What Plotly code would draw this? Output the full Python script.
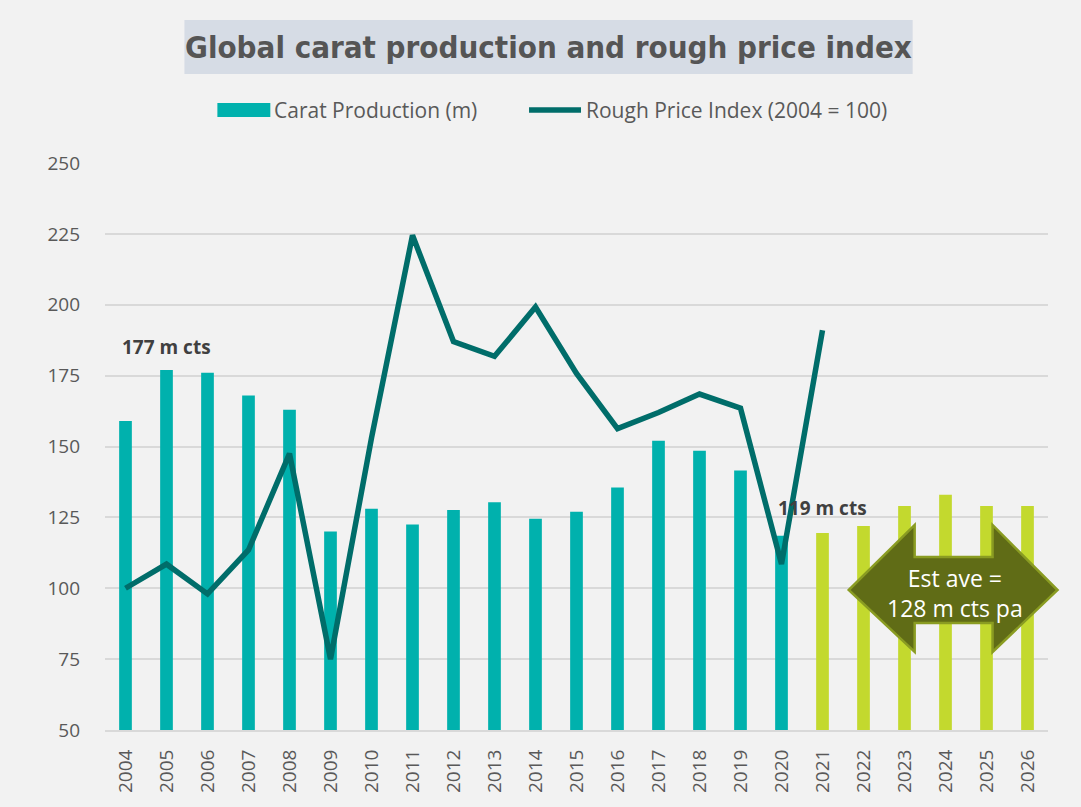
import plotly.graph_objects as go

years = list(range(2004, 2027))
production = [159, 177, 176, 168, 163, 120, 128, 122.5, 127.6, 130.3, 124.5, 127, 135.5,
              152, 148.5, 141.5, 118.5, 119.5, 122, 129, 133, 129, 129]
price_years = list(range(2004, 2022))
price_index = [100, 108.5, 98, 113.5, 147.5, 75, 153, 224.5, 187, 181.8, 199.2, 175.8,
               156.3, 162, 168.5, 163.5, 108.5, 191]
series_names = ["Carat Production (m)", "Rough Price Index (2004 = 100)"]

TEAL = "#00b1ad"
LIME = "#c3d92e"
DARK = "#006d6a"
bar_colors = [TEAL if y <= 2020 else LIME for y in years]

fig = go.Figure()
fig.add_trace(go.Bar(x=years, y=production, name=series_names[0],
                     marker=dict(color=bar_colors, line=dict(width=0)), width=0.31,
                     showlegend=False))
fig.add_trace(go.Scatter(x=price_years, y=price_index, name=series_names[1],
                         mode="lines", line=dict(color=DARK, width=5.5), showlegend=False))

W, H = 1081, 807
L, R, T, B = 104.5, 1048.5, 163, 730


def px(x):
    return (x - L) / (R - L)


def py(y):
    return (B - y) / (B - T)


# title box
fig.add_shape(type="rect", xref="paper", yref="paper",
              x0=px(184), x1=px(913), y0=py(74), y1=py(20),
              fillcolor="#d6dce5", line=dict(width=0), layer="below")
fig.add_annotation(xref="paper", yref="paper", x=px(548.5), y=py(47),
                   text="<b>Global carat production and rough price index</b>",
                   showarrow=False, xanchor="center", yanchor="middle",
                   font=dict(family="DejaVu Sans Condensed, Liberation Sans Narrow, Roboto",
                             size=31, color="#555555"))

# legend (drawn to match the wide swatches of the original)
fig.add_shape(type="rect", xref="paper", yref="paper",
              x0=px(217), x1=px(270), y0=py(117), y1=py(103),
              fillcolor=TEAL, line=dict(width=0))
fig.add_annotation(xref="paper", yref="paper", x=px(272), y=py(110), text=series_names[0],
                   showarrow=False, xanchor="left", yanchor="middle",
                   font=dict(family="Open Sans", size=21, color="#595959"))
fig.add_shape(type="line", xref="paper", yref="paper",
              x0=px(529), x1=px(581), y0=py(110), y1=py(110),
              line=dict(color=DARK, width=5.5))
fig.add_annotation(xref="paper", yref="paper", x=px(584), y=py(110), text=series_names[1],
                   showarrow=False, xanchor="left", yanchor="middle",
                   font=dict(family="Open Sans", size=21, color="#595959"))

# double arrow
pts = [(849, 590), (915, 525), (915, 557), (993, 557), (993, 525), (1058, 590),
       (993, 652), (993, 623), (915, 623), (915, 652)]
path = "M " + " L ".join(f"{px(a):.4f},{py(b):.4f}" for a, b in pts) + " Z"
fig.add_shape(type="path", xref="paper", yref="paper", path=path,
              fillcolor="#606c16", line=dict(color="#8a9c22", width=2.5), layer="above")
fig.add_annotation(xref="paper", yref="paper", x=px(955), y=py(592.5),
                   text="Est ave =<br>128 m cts pa", showarrow=False,
                   font=dict(family="Open Sans", size=23, color="white"),
                   align="center", xanchor="center", yanchor="middle")

# value labels
fig.add_annotation(x=2005, y=185, text="<b>177 m cts</b>", showarrow=False,
                   font=dict(family="Open Sans", size=19, color="#404040"))
fig.add_annotation(x=2021, y=128.3, text="<b>119 m cts</b>", showarrow=False,
                   font=dict(family="Open Sans", size=19, color="#404040"))

fig.update_layout(
    width=W, height=H,
    margin=dict(l=L, r=W - R, t=T, b=H - B, pad=0),
    paper_bgcolor="#f2f2f2", plot_bgcolor="#f2f2f2",
    font=dict(family="Open Sans", color="#595959", size=19),
    showlegend=False,
    bargap=0.69,
    xaxis=dict(range=[2003.5, 2026.5], tickmode="array", tickvals=years,
               ticktext=[str(y) for y in years], tickangle=-90, showgrid=False,
               showline=True, linecolor="#d9d9d9", linewidth=2, ticks="",
               ticklabelstandoff=10, tickfont=dict(size=19, color="#595959"), zeroline=False),
    yaxis=dict(range=[50, 250], tickvals=[50, 75, 100, 125, 150, 175, 200, 225, 250],
               showgrid=True, gridcolor="#d9d9d9", gridwidth=2, zeroline=False,
               showline=False, ticks="", ticklabelstandoff=24,
               tickfont=dict(size=19, color="#595959")),
)

fig.write_html("out.html", config={"displayModeBar": False},
               post_script="document.body.style.margin='0';document.body.style.overflow='hidden';")
